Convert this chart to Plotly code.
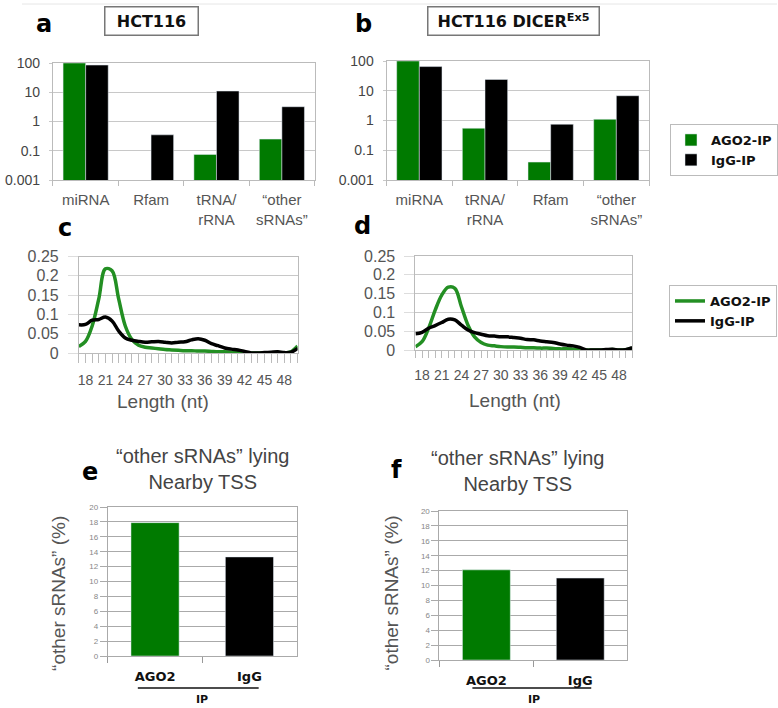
import plotly.graph_objects as go

W, H = 778, 708

# ---------------- data ----------------
cat_a = ['miRNA', 'Rfam', 'tRNA/<br>rRNA', '“other<br>sRNAs”']
ago2_a = [100, None, 0.075, 0.25]
igg_a = [85, 0.35, 11, 3.2]

cat_b = ['miRNA', 'tRNA/<br>rRNA', 'Rfam', '“other<br>sRNAs”']
ago2_b = [100, 0.55, 0.04, 1.1]
igg_b = [65, 24, 0.75, 6.8]

log_tickvals = [0.01, 0.1, 1, 10, 100]
log_ticktext = ['0.001', '0.1', '1', '10', '100']

length_nt = list(range(17, 51))
ago2_c = [0.017, 0.03, 0.07, 0.14, 0.218, 0.213, 0.14, 0.07, 0.035, 0.02,
          0.015, 0.013, 0.011, 0.009, 0.008, 0.007, 0.006, 0.006, 0.005, 0.005,
          0.004, 0.003, 0.003, 0.002, 0.002, 0.001, 0, 0, 0, 0,
          0.001, 0, 0.003, 0.018]
igg_c = [0.073, 0.074, 0.085, 0.087, 0.093, 0.083, 0.057, 0.039, 0.033, 0.03,
         0.028, 0.029, 0.03, 0.028, 0.026, 0.028, 0.029, 0.034, 0.037, 0.033,
         0.024, 0.019, 0.013, 0.01, 0.008, 0.004, 0, 0, 0.001, 0.002,
         0.003, 0.001, 0.002, 0.012]
ago2_d = [0.009, 0.022, 0.058, 0.106, 0.146, 0.167, 0.164, 0.115, 0.066, 0.035,
          0.02, 0.013, 0.011, 0.009, 0.008, 0.008, 0.007, 0.006, 0.006, 0.005,
          0.005, 0.004, 0.003, 0.003, 0.002, 0.001, 0, 0, 0, 0,
          0.001, 0, 0.001, 0.005]
igg_d = [0.043, 0.047, 0.058, 0.065, 0.073, 0.082, 0.08, 0.066, 0.053, 0.046,
         0.042, 0.038, 0.037, 0.035, 0.035, 0.033, 0.031, 0.028, 0.027, 0.024,
         0.022, 0.02, 0.016, 0.013, 0.011, 0.007, 0, 0, 0, 0.001,
         0.002, 0, 0.001, 0.006]

cat_ip = ['AGO2', 'IgG']
pct_e = [17.9, 13.3]
pct_f = [12.1, 11.0]

GREEN = '#007a00'
LGREEN = '#238f23'
BLACK = '#000000'
ARIAL = 'Liberation Sans'
VERD = 'DejaVu Sans'


def xd(x0, x1):
    return [x0 / W, x1 / W]


def yd(y0, y1):
    return [1 - y1 / H, 1 - y0 / H]


fig = go.Figure()

# panel a
fig.add_trace(go.Bar(x=cat_a, y=ago2_a, name='AGO2-IP', marker_color=GREEN,
                     xaxis='x', yaxis='y', legend='legend', legendgroup='a'))
fig.add_trace(go.Bar(x=cat_a, y=igg_a, name='IgG-IP', marker_color=BLACK,
                     xaxis='x', yaxis='y', legend='legend', legendgroup='a'))
# panel b
fig.add_trace(go.Bar(x=cat_b, y=ago2_b, name='AGO2-IP', marker_color=GREEN,
                     xaxis='x2', yaxis='y2', showlegend=False))
fig.add_trace(go.Bar(x=cat_b, y=igg_b, name='IgG-IP', marker_color=BLACK,
                     xaxis='x2', yaxis='y2', showlegend=False))
# panel c
fig.add_trace(go.Scatter(x=length_nt, y=ago2_c, mode='lines', name='AGO2-IP',
                         line=dict(color=LGREEN, width=3.5, shape='spline'),
                         xaxis='x3', yaxis='y3', legend='legend2'))
fig.add_trace(go.Scatter(x=length_nt, y=igg_c, mode='lines', name='IgG-IP',
                         line=dict(color=BLACK, width=3.5, shape='spline'),
                         xaxis='x3', yaxis='y3', legend='legend2'))
# panel d
fig.add_trace(go.Scatter(x=length_nt, y=ago2_d, mode='lines', name='AGO2-IP',
                         line=dict(color=LGREEN, width=3.5, shape='spline'),
                         xaxis='x4', yaxis='y4', showlegend=False))
fig.add_trace(go.Scatter(x=length_nt, y=igg_d, mode='lines', name='IgG-IP',
                         line=dict(color=BLACK, width=3.5, shape='spline'),
                         xaxis='x4', yaxis='y4', showlegend=False))
# panel e, f
fig.add_trace(go.Bar(x=cat_ip, y=pct_e, marker_color=[GREEN, BLACK], width=0.51,
                     xaxis='x5', yaxis='y5', showlegend=False))
fig.add_trace(go.Bar(x=cat_ip, y=pct_f, marker_color=[GREEN, BLACK], width=0.51,
                     xaxis='x6', yaxis='y6', showlegend=False))

BORDER = '#bbbbbb'
GRID = '#c8c8c8'


def cat_x(dom, anchor, size=15):
    return dict(domain=dom, anchor=anchor, type='category', showgrid=False,
                showline=True, linecolor=BORDER, mirror=True, ticks='outside',
                tickson='boundaries', ticklen=5, tickcolor=BORDER,
                tickfont=dict(family=ARIAL, size=size, color='#555'),
                ticklabelstandoff=6, automargin=False, fixedrange=True)


def log_y(dom, anchor):
    return dict(domain=dom, anchor=anchor, type='log', range=[-2, 2],
                tickmode='array', tickvals=log_tickvals, ticktext=log_ticktext,
                showgrid=True, gridcolor=GRID, showline=True, linecolor=BORDER,
                mirror=True, ticks='outside', ticklen=3, tickcolor=GRID,
                tickfont=dict(family=ARIAL, size=14, color='#444'),
                ticklabelstandoff=6, automargin=False)


def len_x(dom, anchor, ticklen):
    return dict(domain=dom, anchor=anchor, range=[17, 50], tickmode='linear',
                tick0=18, dtick=3, showgrid=False, showline=True,
                linecolor=BORDER, mirror=True, ticks='outside', ticklen=ticklen,
                tickcolor=BORDER, zeroline=False,
                minor=dict(ticks='outside', ticklen=ticklen, dtick=1, tick0=17,
                           tickcolor=BORDER, showgrid=False),
                tickfont=dict(family=ARIAL, size=14, color='#555'),
                ticklabelstandoff=5, automargin=False)


def len_y(dom, anchor):
    return dict(domain=dom, anchor=anchor, range=[0, 0.25], tickmode='linear',
                tick0=0, dtick=0.05, showgrid=True, gridcolor=GRID,
                showline=True, linecolor=BORDER, mirror=True, ticks='outside',
                ticklen=10, tickcolor='#dddddd', zeroline=False,
                tickfont=dict(family=ARIAL, size=16, color='#555'),
                ticklabelstandoff=6, automargin=False)


def ip_x(dom, anchor):
    return dict(domain=dom, anchor=anchor, type='category', showgrid=False,
                showline=True, linecolor='#aaa', mirror=True, ticks='outside',
                tickson='boundaries', ticklen=6, tickcolor='#999',
                tickfont=dict(family=VERD, size=13, color='#111', weight='bold'),
                ticklabelstandoff=8, automargin=False)


def pct_y(dom, anchor):
    return dict(domain=dom, anchor=anchor, range=[0, 20], tickmode='linear',
                tick0=0, dtick=2, showgrid=True, gridcolor='#aaaaaa',
                showline=True, linecolor='#aaa', mirror=True, ticks='outside',
                ticklen=7, tickcolor='#aaa', zeroline=False,
                tickfont=dict(family=ARIAL, size=8, color='#888'),
                automargin=False)


fig.update_layout(
    width=W, height=H, margin=dict(l=0, r=0, t=0, b=0),
    paper_bgcolor='white', plot_bgcolor='white',
    barmode='group', bargap=0.31, bargroupgap=0,
    xaxis=cat_x(xd(53, 315), 'y'), yaxis=log_y(yd(63, 180), 'x'),
    xaxis2=cat_x(xd(387, 650), 'y2'), yaxis2=log_y(yd(61, 180), 'x2'),
    xaxis3=len_x(xd(79, 298), 'y3', 9), yaxis3=len_y(yd(256.5, 353), 'x3'),
    xaxis4=len_x(xd(416, 633), 'y4', 7), yaxis4=len_y(yd(256, 350), 'x4'),
    xaxis5=ip_x(xd(108, 297), 'y5'), yaxis5=pct_y(yd(507, 656), 'x5'),
    xaxis6=ip_x(xd(440, 628), 'y6'), yaxis6=pct_y(yd(511, 660), 'x6'),
    legend=dict(x=671 / W, y=1 - 124 / H, xanchor='left', yanchor='top',
                bordercolor=BORDER, borderwidth=1, bgcolor='white',
                font=dict(family=VERD, size=13, color='#111', weight='bold'),
                tracegroupgap=0, itemwidth=30),
    legend2=dict(x=669 / W, y=1 - 285 / H, xanchor='left', yanchor='top',
                 bordercolor=BORDER, borderwidth=1, bgcolor='white',
                 font=dict(family=VERD, size=13, color='#111', weight='bold'),
                 itemwidth=30),
)


def ann(text, x, y, size, family=ARIAL, color='#444', weight='normal', **kw):
    fig.add_annotation(text=text, x=x / W, y=1 - y / H, xref='paper',
                       yref='paper', showarrow=False, xanchor='center',
                       yanchor='middle',
                       font=dict(family=family, size=size, color=color,
                                 weight=weight), **kw)


# panel letters
for lt, x, y in [('a', 44, 24), ('b', 364, 24), ('c', 65, 228),
                 ('d', 363, 226), ('e', 90, 472), ('f', 397, 470)]:
    ann(lt, x, y, 24, family=VERD, color='#000', weight='bold')

# boxed titles
ann('HCT116', 152, 21.5, 16, family=VERD, color='#111', weight='bold',
    bordercolor='#777', borderwidth=1.5, borderpad=0, width=92, height=27,
    bgcolor='white')
ann('HCT116 DICER<sup>Ex5</sup>', 514, 21.5, 16, family=VERD, color='#111',
    weight='bold', bordercolor='#777', borderwidth=1.5, borderpad=0, width=170,
    height=27, bgcolor='white')

# axis titles
ann('Length (nt)', 163.5, 401, 19, color='#555')
ann('Length (nt)', 516, 400, 19, color='#555')
ann('“other sRNAs” (%)', 58, 593, 19, color='#555', textangle=-90)
ann('“other sRNAs” (%)', 392, 593, 19, color='#555', textangle=-90)
ann('IP', 202, 699, 11, family=VERD, color='#111', weight='bold')
ann('IP', 535, 699, 11, family=VERD, color='#111', weight='bold')

# panel titles e, f
ann('“other sRNAs” lying<br>Nearby TSS', 203, 468.5, 20, color='#444')
ann('“other sRNAs” lying<br>Nearby TSS', 518, 471, 20, color='#444')

# decorative lines
for x0, x1, y in [(138, 259, 688), (473, 592, 688)]:
    fig.add_shape(type='line', xref='paper', yref='paper', x0=x0 / W,
                  x1=x1 / W, y0=1 - y / H, y1=1 - y / H,
                  line=dict(color='#111', width=1.5))
fig.add_shape(type='line', xref='paper', yref='paper', x0=22 / W, x1=1,
              y0=1 - 4 / H, y1=1 - 4 / H, line=dict(color='#e6e6e6', width=1))

fig.write_html('out.html')
